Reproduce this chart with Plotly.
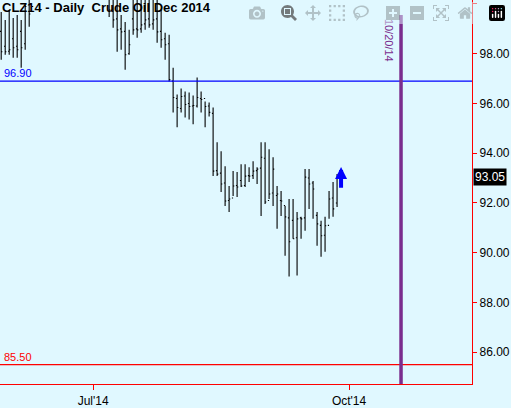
import pandas as pd
import plotly.graph_objects as go

# daily bars for CLZ14, starting 2014-05-29 (trading days)
START = "2014-05-29"
HOLIDAYS = ["2014-07-04", "2014-09-01"]

highs = [99.68, 99.36, 99.76, 99.44, 99.56, 99.36, 99.96, 100.80,
         101.6, 102.1, 102.4, 101.9, 102.8, 103.5, 104.2, 104.0, 103.6, 104.4,
         103.8, 103.2, 102.6, 102.9, 102.2, 101.7, 101.5, 101.2, 100.9,
         100.60, 100.50, 100.20, 99.56, 99.28, 98.96, 100.30, 100.30, 100.30,
         100.30, 100.30, 100.30, 100.30, 99.76, 98.84, 98.76, 97.44, 96.36,
         96.60, 96.48, 96.44, 96.32, 97.04, 96.48, 96.08, 96.04, 95.84, 94.44,
         94.08, 93.48, 92.68, 93.28, 93.24, 93.56, 93.56, 93.44, 93.68, 93.44,
         94.44, 94.44, 94.16, 93.84, 92.68, 92.48, 91.88, 92.16, 92.16, 91.64,
         91.44, 93.36, 93.36, 92.88, 91.64, 91.28, 91.44, 92.48, 92.84, 93.16]
lows = [97.76, 97.96, 97.96, 97.84, 97.84, 97.44, 98.16, 99.08,
        100.5, 100.9, 101.2, 100.8, 101.4, 102.3, 102.9, 102.8, 102.4, 103.1,
        102.6, 101.9, 101.4, 101.5, 100.9, 100.6, 100.4, 100.3, 100.3,
        99.48, 99.04, 98.08, 98.16, 97.36, 97.96, 98.76, 98.64, 98.84,
        98.96, 99.04, 98.96, 98.44, 98.24, 97.76, 96.88, 95.64, 95.04,
        95.64, 95.44, 95.36, 95.16, 95.84, 95.64, 95.04, 95.48, 93.08, 93.08,
        92.44, 91.88, 91.64, 92.28, 92.24, 92.64, 92.64, 92.84, 92.96, 92.76,
        91.48, 91.96, 92.16, 91.88, 90.96, 91.48, 89.88, 89.04, 90.56, 89.08,
        90.56, 90.88, 91.76, 91.36, 90.28, 89.84, 90.04, 91.36, 91.44, 91.84]
closes = [98.08, 98.08, 98.16, 98.24, 98.16, 98.24, 99.90, 99.60,
          101.2, 101.4, 101.9, 101.5, 102.5, 103.1, 103.6, 103.2, 103.3, 103.6,
          103.0, 102.2, 101.8, 102.3, 101.3, 101.0, 100.8, 100.6, 100.5,
          99.76, 99.36, 98.96, 98.88, 97.96, 98.36, 98.96, 98.96, 99.16,
          99.36, 99.16, 99.36, 98.88, 98.56, 98.36, 96.96, 96.24, 95.84,
          96.28, 95.96, 95.88, 95.92, 96.24, 96.16, 95.88, 95.64, 93.28, 93.16,
          92.76, 92.08, 92.16, 92.68, 92.64, 92.68, 93.08, 93.08, 93.28, 93.36,
          93.84, 92.04, 92.36, 93.36, 92.36, 92.08, 91.44, 90.44, 90.56, 91.36,
          91.36, 93.04, 92.76, 92.56, 91.16, 90.68, 91.08, 92.16, 91.76, 93.05]
opens = [98.9, 98.3, 98.1, 98.6, 98.3, 98.9, 98.4, 100.2,
         99.9, 101.2, 101.4, 101.9, 101.6, 102.5, 103.1, 103.6, 103.2, 103.3,
         103.6, 103.0, 102.2, 101.8, 102.3, 101.3, 101.0, 100.8, 100.6,
         100.4, 99.8, 99.4, 99.0, 98.9, 98.0, 99.4, 99.0, 99.0,
         99.2, 99.4, 99.2, 99.4, 98.9, 98.6, 98.4, 96.9, 96.2,
         95.8, 96.3, 96.0, 95.9, 95.9, 96.2, 96.2, 95.9, 95.6, 93.3,
         93.2, 92.8, 92.1, 92.2, 92.7, 92.9, 92.7, 93.1, 93.1, 93.3,
         93.4, 93.8, 92.1, 92.4, 92.3, 92.1, 91.9, 91.4, 91.3, 90.6,
         91.4, 91.4, 93.0, 92.8, 91.5, 91.1, 90.7, 91.1, 92.2, 92.0]

LEVEL_BLUE = 96.90
LEVEL_RED = 85.50
MARK_DATE = "2014-10-20"
LAST = 93.05

# trading calendar -> bar positions
cal = pd.bdate_range(START, "2014-12-31", freq="C", holidays=HOLIDAYS)
pos = {d.strftime("%Y-%m-%d"): i for i, d in enumerate(cal)}
x = list(range(len(closes)))

fig = go.Figure()
fig.add_trace(go.Ohlc(
    x=x, open=opens, high=highs, low=lows, close=closes,
    increasing=dict(line=dict(color="black", width=1.1)),
    decreasing=dict(line=dict(color="black", width=1.1)),
    tickwidth=0.3, showlegend=False, hoverinfo="skip",
))

BG = "#E0F8FF"
fig.add_hline(y=LEVEL_BLUE, line=dict(color="#0000FF", width=1.2))
fig.add_hline(y=LEVEL_RED, line=dict(color="#FF0000", width=1.2))
fig.add_shape(type="line", x0=pos[MARK_DATE], x1=pos[MARK_DATE], y0=84.72, y1=99.56,
              line=dict(color="#7B2D8E", width=3.5))

fig.add_annotation(x=0, xref="paper", y=LEVEL_BLUE, text="96.90", showarrow=False,
                   xanchor="left", yanchor="bottom", xshift=2,
                   font=dict(color="#0000FF", size=11))
fig.add_annotation(x=0, xref="paper", y=LEVEL_RED, text="85.50", showarrow=False,
                   xanchor="left", yanchor="bottom", xshift=2,
                   font=dict(color="#FF0000", size=11))
fig.add_annotation(x=pos[MARK_DATE], y=99.5, text="10/20/14", showarrow=False, textangle=90,
                   xanchor="right", yanchor="top", xshift=-4,
                   font=dict(color="#7B2D8E", size=11))
fig.add_annotation(x=0, xref="paper", y=1, yref="paper", text="<b>CLZ14 - Daily  Crude Oil Dec 2014</b>",
                   showarrow=False, xanchor="left", yanchor="top", xshift=0, yshift=2,
                   font=dict(color="black", size=13))
fig.add_annotation(x=1, xref="paper", y=LAST, text="93.05", showarrow=False,
                   xanchor="left", xshift=1, bgcolor="black", borderpad=1,
                   font=dict(color="white", size=12))
fig.add_annotation(x=85, y=93.45, ax=85, ay=92.55, axref="x", ayref="y", text="",
                   showarrow=True, arrowhead=2, arrowsize=0.6, arrowwidth=4, arrowcolor="#0000FF")

fig.update_layout(
    width=511, height=408,
    margin=dict(l=0, r=39, t=0, b=22),
    paper_bgcolor=BG, plot_bgcolor=BG,
    font=dict(family="Liberation Sans, Arial", color="black"),
    xaxis=dict(range=[-0.3, 117.75], rangeslider=dict(visible=False), showgrid=False,
               zeroline=False, tickmode="array",
               tickvals=[pos["2014-07-01"], pos["2014-10-01"]], ticktext=["Jul'14", "Oct'14"],
               ticks="outside", ticklen=5, tickcolor="#FF0000", showline=True,
               linecolor="#FF0000", linewidth=1.2, tickfont=dict(size=12)),
    yaxis=dict(range=[84.72, 100.16], side="right", dtick=2, tickformat=".2f",
               showgrid=False, zeroline=False, ticks="outside", ticklen=4,
               tickcolor="#FF0000", showline=True, linecolor="#FF0000", linewidth=1.2,
               tickfont=dict(size=12)),
)

# drop the page's default body margin so the figure sits at the window's corner
fig.write_html("out.html", post_script="document.body.style.margin='0';")
